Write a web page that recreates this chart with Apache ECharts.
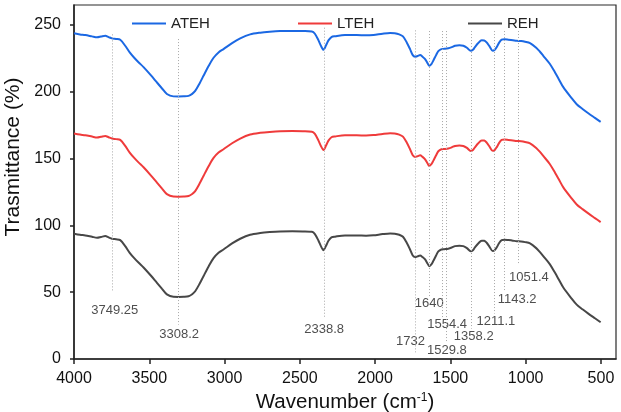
<!DOCTYPE html>
<html>
<head>
<meta charset="utf-8">
<script src="https://cdn.jsdelivr.net/npm/echarts@6/dist/echarts.min.js"></script>
<style>
  html, body { margin: 0; padding: 0; background: #fff; }
  #chart { width: 621px; height: 412px; }
</style>
</head>
<body>
<div id="chart"></div>
<script>
// FTIR spectra of the three extracts (wavenumber in cm-1, transmittance in %)
const wavenumbers = [
  4000, 3960, 3925, 3880, 3847, 3820, 3792, 3770, 3748, 3720,
  3693, 3660, 3630, 3600, 3570, 3538, 3490, 3449, 3415, 3383,
  3340, 3306, 3270, 3239, 3215, 3195, 3165, 3140, 3105, 3073,
  3040, 3007, 2950, 2896, 2830, 2763, 2700, 2631, 2550, 2480,
  2420, 2400, 2376, 2360, 2343, 2325, 2310, 2290, 2266, 2200,
  2122, 2060, 2011, 1950, 1900, 1870, 1840, 1815, 1790, 1768,
  1750, 1735, 1718, 1701, 1685, 1668, 1652, 1640, 1625, 1613,
  1595, 1580, 1560, 1540, 1514, 1490, 1469, 1440, 1414, 1390,
  1365, 1350, 1337, 1315, 1292, 1275, 1259, 1240, 1219, 1205,
  1192, 1175, 1159, 1140, 1115, 1085, 1060, 1030, 1004, 971,
  930, 905, 883, 840, 805, 780, 750, 700, 661, 620,
  584, 540, 502
];

const ateh = [
  243.8, 243.0, 242.5, 241.5, 240.8, 241.4, 242.0, 241.0, 240.0, 239.6,
  239.0, 234.5, 229.5, 225.5, 222.0, 218.5, 212.5, 207.0, 202.5, 198.4,
  196.6, 196.5, 196.6, 197.0, 198.5, 200.7, 206.5, 212.0, 219.5, 225.5,
  229.5, 232.0, 236.5, 240.0, 243.0, 244.3, 245.0, 245.5, 245.6, 245.5,
  245.2, 243.5, 238.5, 234.5, 231.5, 235.0, 238.5, 241.0, 241.6, 242.5,
  242.5, 242.3, 242.6, 243.5, 244.0, 243.8, 243.0, 241.5, 237.0, 232.0,
  227.5, 226.3, 226.8, 227.5, 226.3, 224.5, 221.5, 219.5, 221.0, 223.5,
  227.5, 230.5, 232.0, 232.2, 232.6, 233.5, 234.5, 234.8, 234.5, 233.0,
  230.7, 231.5, 233.5, 236.5, 238.6, 238.5, 237.0, 234.0, 230.8, 231.5,
  233.6, 237.0, 239.0, 239.3, 239.0, 238.6, 238.2, 238.0, 237.5, 236.5,
  233.0, 230.0, 227.0, 221.0, 214.5, 209.5, 203.5, 196.0, 190.7, 187.0,
  184.0, 180.5, 177.5
];

const lteh = [
  168.8, 168.0, 167.5, 166.5, 165.8, 166.4, 167.0, 166.0, 165.0, 164.6,
  164.0, 159.5, 154.5, 150.5, 147.0, 143.5, 137.5, 132.0, 127.5, 123.4,
  121.6, 121.5, 121.6, 122.0, 123.5, 125.7, 131.5, 137.0, 144.5, 150.5,
  154.5, 157.0, 161.5, 165.0, 168.0, 169.3, 170.0, 170.5, 170.6, 170.5,
  170.2, 168.5, 163.5, 159.5, 156.5, 160.0, 163.5, 166.0, 166.6, 167.5,
  167.5, 167.3, 167.6, 168.5, 169.0, 168.8, 168.0, 166.5, 162.0, 157.0,
  152.5, 151.3, 151.8, 152.5, 151.3, 149.5, 146.5, 144.5, 146.0, 148.5,
  152.5, 155.5, 157.0, 157.2, 157.6, 158.5, 159.5, 159.8, 159.5, 158.0,
  155.7, 156.5, 158.5, 161.5, 163.6, 163.5, 162.0, 159.0, 155.8, 156.5,
  158.6, 162.0, 164.0, 164.3, 164.0, 163.6, 163.2, 163.0, 162.5, 161.5,
  158.0, 155.0, 152.0, 146.0, 139.5, 134.5, 128.5, 121.0, 115.7, 112.0,
  109.0, 105.5, 102.5
];

const reh = [
  93.8, 93.0, 92.5, 91.5, 90.8, 91.4, 92.0, 91.0, 90.0, 89.6,
  89.0, 84.5, 79.5, 75.5, 72.0, 68.5, 62.5, 57.0, 52.5, 48.4,
  46.6, 46.5, 46.6, 47.0, 48.5, 50.7, 56.5, 62.0, 69.5, 75.5,
  79.5, 82.0, 86.5, 90.0, 93.0, 94.3, 95.0, 95.5, 95.6, 95.5,
  95.2, 93.5, 88.5, 84.5, 81.5, 85.0, 88.5, 91.0, 91.6, 92.5,
  92.5, 92.3, 92.6, 93.5, 94.0, 93.8, 93.0, 91.5, 87.0, 82.0,
  77.5, 76.3, 76.8, 77.5, 76.3, 74.5, 71.5, 69.5, 71.0, 73.5,
  77.5, 80.5, 82.0, 82.2, 82.6, 83.5, 84.5, 84.8, 84.5, 83.0,
  80.7, 81.5, 83.5, 86.5, 88.6, 88.5, 87.0, 84.0, 80.8, 81.5,
  83.6, 87.0, 89.0, 89.3, 89.0, 88.6, 88.2, 88.0, 87.5, 86.5,
  83.0, 80.0, 77.0, 71.0, 64.5, 59.5, 53.5, 46.0, 40.7, 37.0,
  34.0, 30.5, 27.5
];

// Assigned band positions
const peakWavenumbers = [3749.25, 3308.2, 2338.8, 1732, 1640, 1554.4, 1529.8, 1358.2, 1211.1, 1143.2, 1051.4];
const peakLabels = ['3749.25', '3308.2', '2338.8', '1732', '1640', '1554.4', '1529.8', '1358.2', '1211.1', '1143.2', '1051.4'];

const xTicks = [4000, 3500, 3000, 2500, 2000, 1500, 1000, 500];
const yTicks = [0, 50, 100, 150, 200, 250];

// Guide-line extent and label placement for each band: [top, bottom, labelY, labelDx]
const guideLayout = [
  [243, 50.5, 36.5, 3],
  [239.5, 25.7, 18.2, 1],
  [248, 31, 22, 0],
  [246, 5, 13.2, -5],
  [245.5, 47, 41.5, 0],
  [245.5, 31, 25.7, 5],
  [245.5, 12.5, 6.5, 1],
  [245.5, 22.7, 17, 2],
  [245.5, 34, 28.2, 2],
  [245.5, 50.5, 44.5, 13],
  [245.5, 71.5, 61.2, 11]
];

const FONT = '"Liberation Sans", Arial, sans-serif';
const COLORS = { ateh: '#1b68e3', lteh: '#ef3b3b', reh: '#474747' };

const pairs = (ys) => wavenumbers.map((w, i) => [w, ys[i]]);

const lineSeries = (name, ys, color) => ({
  name: name,
  type: 'line',
  data: pairs(ys),
  showSymbol: false,
  symbol: 'none',
  smooth: 0.3,
  z: 3,
  lineStyle: { color: color, width: 2 },
  itemStyle: { color: color }
});

const legendItem = (name, left) => ({
  data: [name],
  left: left,
  top: 16,
  padding: 0,
  icon: 'rect',
  itemWidth: 34,
  itemHeight: 2,
  textStyle: { fontFamily: FONT, fontSize: 15, color: '#222' }
});

const chart = echarts.init(document.getElementById('chart'), null, { renderer: 'canvas' });

chart.setOption({
  animation: false,
  backgroundColor: '#fff',
  textStyle: { fontFamily: FONT },
  grid: {
    left: 74, right: 5, top: 5, bottom: 53,
    show: true, borderColor: '#2a2a2a', borderWidth: 1.2,
    containLabel: false, outerBoundsMode: 'none'
  },
  legend: [
    legendItem('ATEH', 132),
    legendItem('LTEH', 298),
    legendItem('REH', 468)
  ],
  xAxis: {
    type: 'value',
    inverse: true,
    min: 400,
    max: 4000,
    name: 'Wavenumber (cm{sup|-1})',
    nameLocation: 'middle',
    nameGap: 28,
    nameTextStyle: {
      fontFamily: FONT, fontSize: 20.5, color: '#111',
      rich: { sup: { fontFamily: FONT, fontSize: 12, color: '#111', verticalAlign: 'top', padding: [0, 0, 9, 0] } }
    },
    axisLine: { show: true, onZero: false, lineStyle: { color: '#222', width: 1.5 } },
    axisTick: { show: true, length: 5, customValues: xTicks, lineStyle: { color: '#222', width: 1.5 } },
    axisLabel: {
      customValues: xTicks, fontFamily: FONT, fontSize: 16, color: '#111', margin: 12,
      formatter: (v) => String(v)
    },
    splitLine: { show: false }
  },
  yAxis: {
    type: 'value',
    min: 0,
    max: 265,
    name: 'Trasmittance (%)',
    nameLocation: 'middle',
    nameGap: 44,
    nameTextStyle: { fontFamily: FONT, fontSize: 21, color: '#111', padding: [0, 0, 0, 50] },
    axisLine: { show: true, onZero: false, lineStyle: { color: '#222', width: 1.5 } },
    axisTick: { show: true, length: 4, customValues: yTicks, lineStyle: { color: '#222', width: 1.5 } },
    axisLabel: {
      customValues: yTicks, fontFamily: FONT, fontSize: 16, color: '#111', margin: 13,
      formatter: (v) => String(v)
    },
    splitLine: { show: false }
  },
  series: [
    {
      name: 'guides',
      type: 'line',
      data: [],
      z: 1,
      silent: true,
      markLine: {
        silent: true,
        symbol: 'none',
        animation: false,
        label: { show: false },
        lineStyle: { color: '#a8a8a8', width: 1, type: [1, 2] },
        data: peakWavenumbers.map((w, i) => [
          { coord: [w, guideLayout[i][0]] },
          { coord: [w, guideLayout[i][1]] }
        ])
      }
    },
    lineSeries('ATEH', ateh, COLORS.ateh),
    lineSeries('LTEH', lteh, COLORS.lteh),
    lineSeries('REH', reh, COLORS.reh),
    {
      name: 'bands',
      type: 'scatter',
      symbolSize: 0,
      silent: true,
      z: 4,
      data: peakWavenumbers.map((w, i) => ({
        value: [w, guideLayout[i][2]],
        label: {
          show: true,
          position: 'inside',
          offset: [guideLayout[i][3], 0],
          formatter: peakLabels[i],
          fontFamily: FONT,
          fontSize: 13,
          color: '#222'
        }
      }))
    }
  ]
});
</script>
</body>
</html>
